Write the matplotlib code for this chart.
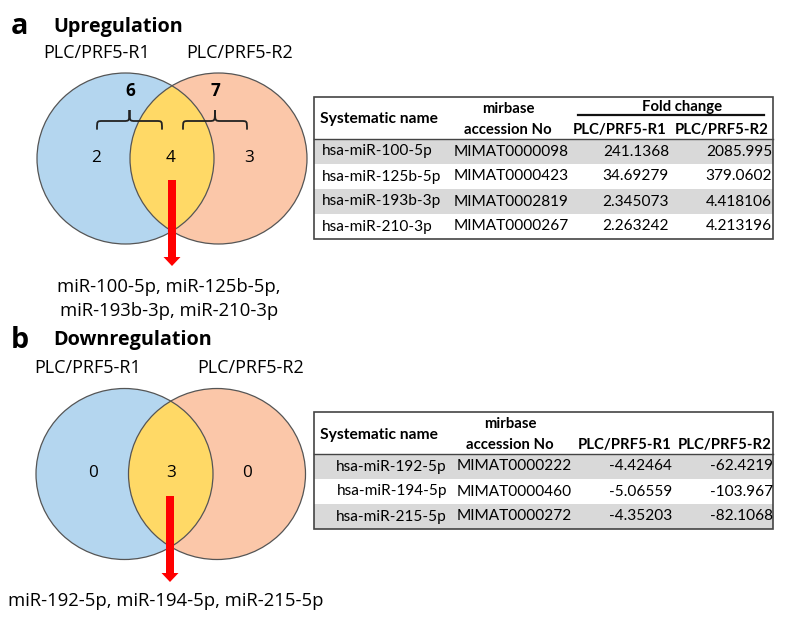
import matplotlib
matplotlib.use('Agg')
import matplotlib.pyplot as plt
from matplotlib.patches import Ellipse, Rectangle, FancyArrow, PathPatch
from matplotlib.path import Path

# ---------------- data ----------------
set_labels = ['PLC/PRF5-R1', 'PLC/PRF5-R2']
up_counts = [2, 4, 3]          # R1 only, both, R2 only
up_totals = [6, 7]
up_list = ['miR-100-5p, miR-125b-5p,', 'miR-193b-3p, miR-210-3p']
down_counts = [0, 3, 0]
down_list = ['miR-192-5p, miR-194-5p, miR-215-5p']

up_names = ['hsa-miR-100-5p', 'hsa-miR-125b-5p', 'hsa-miR-193b-3p', 'hsa-miR-210-3p']
up_acc = ['MIMAT0000098', 'MIMAT0000423', 'MIMAT0002819', 'MIMAT0000267']
up_r1 = [241.1368, 34.69279, 2.345073, 2.263242]
up_r2 = [2085.995, 379.0602, 4.418106, 4.213196]

down_names = ['hsa-miR-192-5p', 'hsa-miR-194-5p', 'hsa-miR-215-5p']
down_acc = ['MIMAT0000222', 'MIMAT0000460', 'MIMAT0000272']
down_r1 = [-4.42464, -5.06559, -4.35203]
down_r2 = [-62.4219, -103.967, -82.1068]

col_headers = ['Systematic name', 'mirbase\naccession No', 'PLC/PRF5-R1', 'PLC/PRF5-R2']

# ---------------- figure ----------------
W, H = 789, 619
fig = plt.figure(figsize=(7.89, 6.19), dpi=100)
ax = fig.add_axes([0, 0, 1, 1])
ax.set_xlim(0, W)
ax.set_ylim(H, 0)
ax.axis('off')
renderer = fig.canvas.get_renderer()

VF = 'Open Sans'
TF = 'Lato'


def size_for(s, target, family, weight='normal'):
    t = ax.text(0, 0, s, fontsize=10, family=family, weight=weight)
    w = t.get_window_extent(renderer).width
    t.remove()
    return 10 * target / w


lab_fs = size_for('PLC/PRF5-R1', 107, VF)
num_fs = lab_fs * 0.95
list_fs = size_for('miR-100-5p, miR-125b-5p,', 223, VF)
title_fs = size_for('Upregulation', 130, VF, 'bold')
cell_fs = size_for('MIMAT0000098', 114, TF)
head_fs = min(size_for('PLC/PRF5-R1', 93, TF, 'bold'),
              size_for('accession No', 92, TF, 'bold'))

BLUE = '#B4D6EF'
PEACH = '#FBC7A9'
YELLOW = '#FFD966'
EDGE = '#555555'
GRAY = '#D9D9D9'


def brace(x0, x1, xm, yb, yc, yt, r=6):
    verts = [(x0, yb), (x0, yc), (x0, yc), (x0 + r, yc), (xm - r, yc),
             (xm, yc), (xm, yc), (xm, yt),
             (xm, yc), (xm, yc), (xm + r, yc), (x1 - r, yc),
             (x1, yc), (x1, yc), (x1, yb)]
    codes = [Path.MOVETO, Path.CURVE4, Path.CURVE4, Path.CURVE4, Path.LINETO,
             Path.CURVE4, Path.CURVE4, Path.CURVE4,
             Path.CURVE4, Path.CURVE4, Path.CURVE4, Path.LINETO,
             Path.CURVE4, Path.CURVE4, Path.CURVE4]
    ax.add_patch(PathPatch(Path(verts, codes), fill=False, lw=1.3,
                           edgecolor='#222222', capstyle='round', zorder=4))


def venn(cx1, cx2, cy, counts, num_x, arrow_x, arrow_top, arrow_bot,
         lab_pos, list_lines, list_y, list_x):
    w, h = 177, 171
    e1 = Ellipse((cx1, cy), w, h, facecolor=BLUE, edgecolor='none', zorder=1)
    e2 = Ellipse((cx2, cy), w, h, facecolor=PEACH, edgecolor='none', zorder=1)
    ax.add_patch(e1)
    ax.add_patch(e2)
    e3 = Ellipse((cx2, cy), w, h, facecolor=YELLOW, edgecolor='none', zorder=2)
    ax.add_patch(e3)
    e3.set_clip_path(e1)
    for c in (cx1, cx2):
        ax.add_patch(Ellipse((c, cy), w, h, fill=False, edgecolor=EDGE, lw=0.9, zorder=3))
    for x, n in zip(num_x, counts):
        ax.text(x, cy - 1, str(n), fontsize=num_fs, family=VF, ha='center',
                va='center', zorder=4)
    for (x, y), s in zip(lab_pos, set_labels):
        ax.text(x, y, s, fontsize=lab_fs, family=VF, ha='center', va='center')
    ax.add_patch(FancyArrow(arrow_x, arrow_top, 0, arrow_bot - arrow_top,
                            width=8, head_width=17, head_length=9,
                            length_includes_head=True, color='#FF0000',
                            lw=0, zorder=5))
    for i, s in enumerate(list_lines):
        ax.text(list_x, list_y + i * 24, s, fontsize=list_fs, family=VF,
                ha='center', va='center')


# ---- panel a ----
ax.text(11, 26, 'a', fontsize=title_fs * 1.45, family=VF, weight='bold',
        ha='left', va='center')
ax.text(53, 27, 'Upregulation', fontsize=title_fs, family=VF, weight='bold',
        ha='left', va='center')
venn(125.5, 218.5, 158.5, up_counts, [96, 171, 249], 172, 180, 266,
     [(97, 53), (240, 53)], up_list, 287, 169)
ax.text(130, 91, str(up_totals[0]), fontsize=num_fs, family=VF, weight='bold',
        ha='center', va='center', zorder=4)
ax.text(215, 91, str(up_totals[1]), fontsize=num_fs, family=VF, weight='bold',
        ha='center', va='center', zorder=4)
brace(97, 162, 129.5, 129, 121, 110)
brace(183, 247, 215, 129, 121, 110)

# ---- panel b ----
ax.text(11, 340, 'b', fontsize=title_fs * 1.45, family=VF, weight='bold',
        ha='left', va='center')
ax.text(53, 340, 'Downregulation', fontsize=title_fs, family=VF, weight='bold',
        ha='left', va='center')
venn(124.5, 217, 474, down_counts, [93, 171, 247], 170, 496, 582,
     [(88, 368), (251, 368)], down_list, 601, 166)


# ---------------- tables ----------------
def fmt(v):
    return repr(v)


def table(left, right, top, head_bot, row_h, names, acc, r1, r2,
          name_align, name_x, acc_x, r1_x, r2_x, h1_x, h2_x, acc_hx,
          fold=False):
    n = len(names)
    bottom = head_bot + n * row_h
    for i in range(n):
        if i % 2 == 0:
            ax.add_patch(Rectangle((left, head_bot + i * row_h), right - left, row_h,
                                   facecolor=GRAY, edgecolor='none', zorder=1))
    ax.add_patch(Rectangle((left, top), right - left, bottom - top, fill=False,
                           edgecolor='#444444', lw=1.2, zorder=3))
    ax.plot([left, right], [head_bot, head_bot], color='#444444', lw=1.0, zorder=3)
    hy = (top + head_bot) / 2
    ax.text(left + 6, hy + 1.5, col_headers[0], fontsize=head_fs * 1.05, family=TF,
            weight='bold', ha='left', va='center')
    acc_lines = col_headers[1].split('\n')
    ax.text(acc_hx, hy - 9, acc_lines[0], fontsize=head_fs, family=TF,
            weight='bold', ha='center', va='center')
    ax.text(acc_hx, hy + 12, acc_lines[1], fontsize=head_fs, family=TF,
            weight='bold', ha='center', va='center')
    ax.text(h1_x, hy + 12, col_headers[2], fontsize=head_fs, family=TF,
            weight='bold', ha='center', va='center')
    ax.text(h2_x, hy + 12, col_headers[3], fontsize=head_fs, family=TF,
            weight='bold', ha='center', va='center')
    if fold:
        ax.text(682, hy - 11, 'Fold change', fontsize=head_fs,
                family=TF, weight='bold', ha='center', va='center')
        ax.plot([578, 764], [hy - 3, hy - 3], color='#111111', lw=1.6)
    for i in range(n):
        y = head_bot + (i + 0.5) * row_h
        ax.text(name_x, y, names[i], fontsize=cell_fs, family=TF,
                ha=name_align, va='center', zorder=4)
        ax.text(acc_x, y, acc[i], fontsize=cell_fs, family=TF,
                ha='left', va='center', zorder=4)
        ax.text(r1_x, y, fmt(r1[i]), fontsize=cell_fs, family=TF,
                ha='right', va='center', zorder=4)
        ax.text(r2_x, y, fmt(r2[i]), fontsize=cell_fs, family=TF,
                ha='right', va='center', zorder=4)


table(314, 773, 97, 139, 25, up_names, up_acc, up_r1, up_r2,
      'left', 322, 454, 669, 772, 620, 722, 508, fold=True)
table(314, 773, 412, 454, 25, down_names, down_acc, down_r1, down_r2,
      'right', 447, 457, 672, 773, 625, 725, 510, fold=False)

fig.savefig('out.png', dpi=100)
